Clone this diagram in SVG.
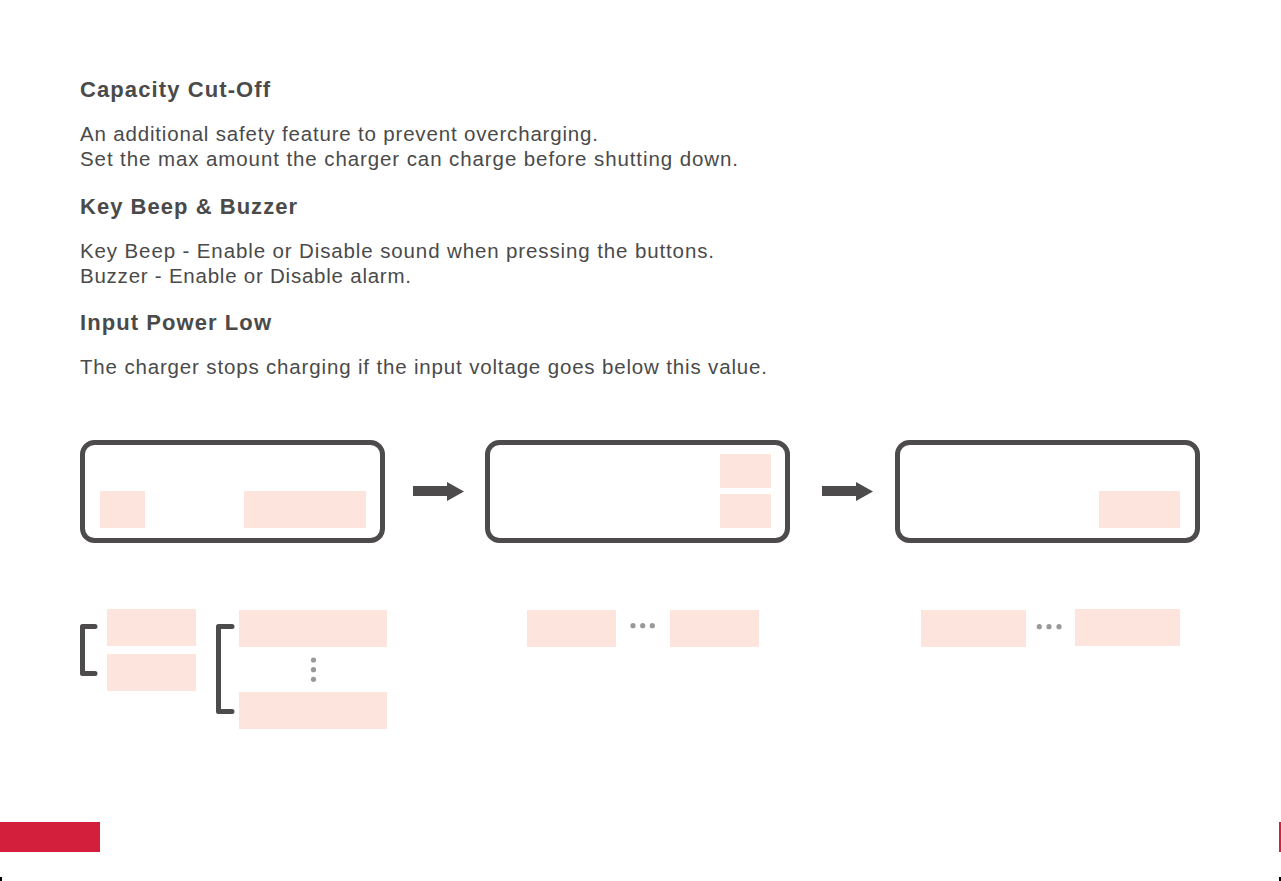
<svg xmlns="http://www.w3.org/2000/svg" width="1281" height="881" viewBox="0 0 1281 881">
<style>
.h{font-family:"Liberation Sans",Arial,sans-serif;font-size:22px;font-weight:bold;fill:#4a4a4a}
.b{font-family:"Liberation Sans",Arial,sans-serif;font-size:20.5px;fill:#4a4a4a}
.frame{fill:#fff;stroke:#4d4b4b;stroke-width:5}
.pk{fill:#fde4dc}
.br{fill:none;stroke:#4d4b4b;stroke-width:5;stroke-linejoin:round;stroke-linecap:round}
.dot{fill:#999}
.arr{fill:#4d4b4b}
</style>
<rect width="1281" height="881" fill="#fff"/>
<g id="text">
<text class="h" x="80" y="97" textLength="190" lengthAdjust="spacing">Capacity Cut-Off</text>
<text class="b" x="80" y="141" textLength="518" lengthAdjust="spacing">An additional safety feature to prevent overcharging.</text>
<text class="b" x="80" y="166" textLength="658" lengthAdjust="spacing">Set the max amount the charger can charge before shutting down.</text>
<text class="h" x="80" y="214" textLength="217" lengthAdjust="spacing">Key Beep &amp; Buzzer</text>
<text class="b" x="80" y="258" textLength="634" lengthAdjust="spacing">Key Beep - Enable or Disable sound when pressing the buttons.</text>
<text class="b" x="80" y="283" textLength="331" lengthAdjust="spacing">Buzzer - Enable or Disable alarm.</text>
<text class="h" x="80" y="330" textLength="191" lengthAdjust="spacing">Input Power Low</text>
<text class="b" x="80" y="374" textLength="687" lengthAdjust="spacing">The charger stops charging if the input voltage goes below this value.</text>
</g>
<g id="screen1">
<rect class="frame" x="82.5" y="442.5" width="300" height="98" rx="12"/>
<rect class="pk" x="100" y="491" width="45" height="37"/>
<rect class="pk" x="244" y="491" width="122" height="37"/>
</g>
<g id="screen2">
<rect class="frame" x="487.5" y="442.5" width="300" height="98" rx="12"/>
<rect class="pk" x="720" y="454" width="51" height="34"/>
<rect class="pk" x="720" y="494" width="51" height="34"/>
</g>
<g id="screen3">
<rect class="frame" x="897.5" y="442.5" width="300" height="98" rx="12"/>
<rect class="pk" x="1099" y="491" width="81" height="37"/>
</g>
<g id="connectors">
<path class="arr" d="M413 486H447V482L464 491.5L447 501V496H413Z"/>
<path class="arr" d="M822 486H856V482L873 491.5L856 501V496H822Z"/>
</g>
<g id="options1">
<path class="br" d="M95 626.5H82.5V673.5H95"/>
<rect class="pk" x="107" y="609" width="89" height="37"/>
<rect class="pk" x="107" y="654" width="89" height="37"/>
</g>
<g id="options2">
<path class="br" d="M232 626.5H218.5V711.5H232"/>
<rect class="pk" x="239" y="610" width="148" height="37"/>
<rect class="pk" x="239" y="692" width="148" height="37"/>
<circle class="dot" cx="313.5" cy="660" r="2.6"/>
<circle class="dot" cx="313.5" cy="669.7" r="2.6"/>
<circle class="dot" cx="313.5" cy="679.3" r="2.6"/>
</g>
<g id="options3">
<rect class="pk" x="527" y="610" width="89" height="37"/>
<rect class="pk" x="670" y="610" width="89" height="37"/>
<circle class="dot" cx="633" cy="625.7" r="2.6"/>
<circle class="dot" cx="642.7" cy="625.7" r="2.6"/>
<circle class="dot" cx="652.3" cy="625.7" r="2.6"/>
</g>
<g id="options4">
<rect class="pk" x="921" y="610" width="105" height="37"/>
<rect class="pk" x="1075" y="609" width="105" height="37"/>
<circle class="dot" cx="1039.3" cy="626.7" r="2.6"/>
<circle class="dot" cx="1049" cy="626.7" r="2.6"/>
<circle class="dot" cx="1059" cy="626.7" r="2.6"/>
</g>
<g id="footer">
<rect x="0" y="822" width="100" height="30" fill="#d31f3b"/>
<rect x="1279" y="822" width="2" height="30" fill="#d31f3b"/>
<rect x="0" y="877" width="2" height="4" fill="#000"/>
<rect x="1279" y="877" width="2" height="4" fill="#000"/>
</g>
</svg>
